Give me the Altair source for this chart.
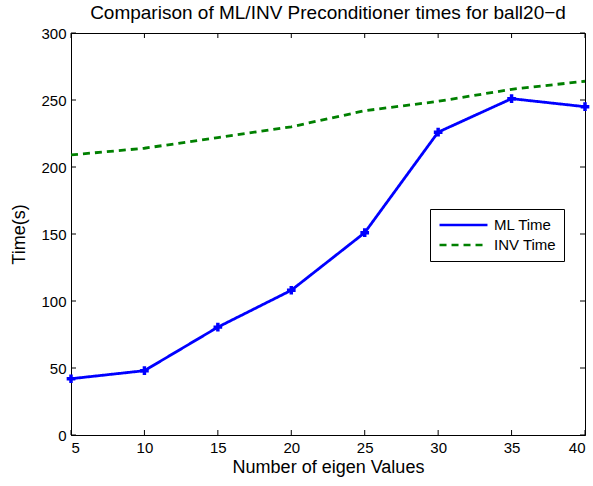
import altair as alt
import pandas as pd

# Number of eigenvalues used by the preconditioner
eigen_counts = [5, 10, 15, 20, 25, 30, 35, 40]
# Time in seconds for each preconditioner
ml_time = [42, 48, 80.5, 108, 151, 226, 251, 245]
inv_time = [209, 214, 222, 230, 242, 249, 258, 264]

x_tick_values = [5, 10, 15, 20, 25, 30, 35, 40]
y_tick_values = [0, 50, 100, 150, 200, 250, 300]

W, H = 514, 402
FONT = "Liberation Sans"

df = pd.DataFrame(
    {
        "n": eigen_counts * 2,
        "time": ml_time + inv_time,
        "series": ["ML Time"] * len(eigen_counts) + ["INV Time"] * len(eigen_counts),
    }
)
ml_df = df[df["series"] == "ML Time"]

xscale = alt.Scale(domain=[5, 40], nice=False, zero=False)
yscale = alt.Scale(domain=[0, 300], nice=False)
x_axis = alt.Axis(
    values=x_tick_values,
    title="Number of eigen Values",
    ticks=False,
    labelPadding=5,
    titlePadding=3,
)
y_axis = alt.Axis(
    values=y_tick_values,
    title="Time(s)",
    ticks=False,
    labelPadding=5,
    titlePadding=12,
)

color = alt.Color(
    "series:N",
    scale=alt.Scale(domain=["ML Time", "INV Time"], range=["#0000ff", "#008000"]),
    legend=alt.Legend(
        title=None,
        orient="none",
        legendX=359,
        legendY=176,
        strokeColor="black",
        fillColor="white",
        padding=8,
        symbolType="stroke",
        symbolSize=2300,
        symbolStrokeWidth=2.5,
        clipHeight=16,
        labelFont=FONT,
        labelFontSize=15,
        labelColor="black",
        labelOffset=5,
        rowPadding=4,
        cornerRadius=0,
    ),
)
dash = alt.StrokeDash(
    "series:N",
    scale=alt.Scale(domain=["ML Time", "INV Time"], range=[[1, 0], [7, 5]]),
    legend=None,
)

lines = (
    alt.Chart(df)
    .mark_line(strokeWidth=2.8)
    .encode(
        x=alt.X("n:Q", scale=xscale, axis=x_axis),
        y=alt.Y("time:Q", scale=yscale, axis=y_axis),
        color=color,
        strokeDash=dash,
        order=alt.Order("n:Q"),
    )
)

points = (
    alt.Chart(ml_df)
    .mark_point(shape="cross", filled=True, size=75, opacity=1)
    .encode(
        x=alt.X("n:Q", scale=xscale, axis=x_axis),
        y=alt.Y("time:Q", scale=yscale, axis=y_axis),
        color=alt.value("#0000ff"),
    )
)

xt = pd.DataFrame({"n": x_tick_values})
yt = pd.DataFrame({"time": y_tick_values})

# inward tick marks on all four sides
x_ticks_bottom = alt.Chart(xt).mark_rule(color="black", strokeWidth=1).encode(
    x=alt.X("n:Q", scale=xscale, axis=x_axis), y=alt.value(H), y2=alt.value(H - 5)
)
x_ticks_top = alt.Chart(xt).mark_rule(color="black", strokeWidth=1).encode(
    x=alt.X("n:Q", scale=xscale, axis=x_axis), y=alt.value(0), y2=alt.value(5)
)
y_ticks_left = alt.Chart(yt).mark_rule(color="black", strokeWidth=1).encode(
    y=alt.Y("time:Q", scale=yscale, axis=y_axis), x=alt.value(0), x2=alt.value(5)
)
y_ticks_right = alt.Chart(yt).mark_rule(color="black", strokeWidth=1).encode(
    y=alt.Y("time:Q", scale=yscale, axis=y_axis), x=alt.value(W), x2=alt.value(W - 5)
)

chart = (
    alt.layer(lines, points, x_ticks_bottom, x_ticks_top, y_ticks_left, y_ticks_right)
    .properties(
        width=W,
        height=H,
        background="white",
        title=alt.TitleParams(
            "Comparison of ML/INV Preconditioner times for ball20\u2212d",
            font=FONT,
            fontSize=19,
            fontWeight="normal",
            color="black",
            offset=3,
        ),
        autosize=alt.AutoSizeParams(type="none"),
        padding={"left": 71, "top": 33, "right": 8, "bottom": 51},
    )
    .configure_view(stroke="black", strokeWidth=1)
    .configure_axis(
        grid=False,
        domainColor="black",
        domainWidth=1,
        labelFont=FONT,
        labelFontSize=15,
        labelColor="black",
        titleFont=FONT,
        titleFontSize=18,
        titleFontWeight="normal",
        titleColor="black",
    )
)

chart.save("out.html", embed_options={"renderer": "svg", "actions": False})
